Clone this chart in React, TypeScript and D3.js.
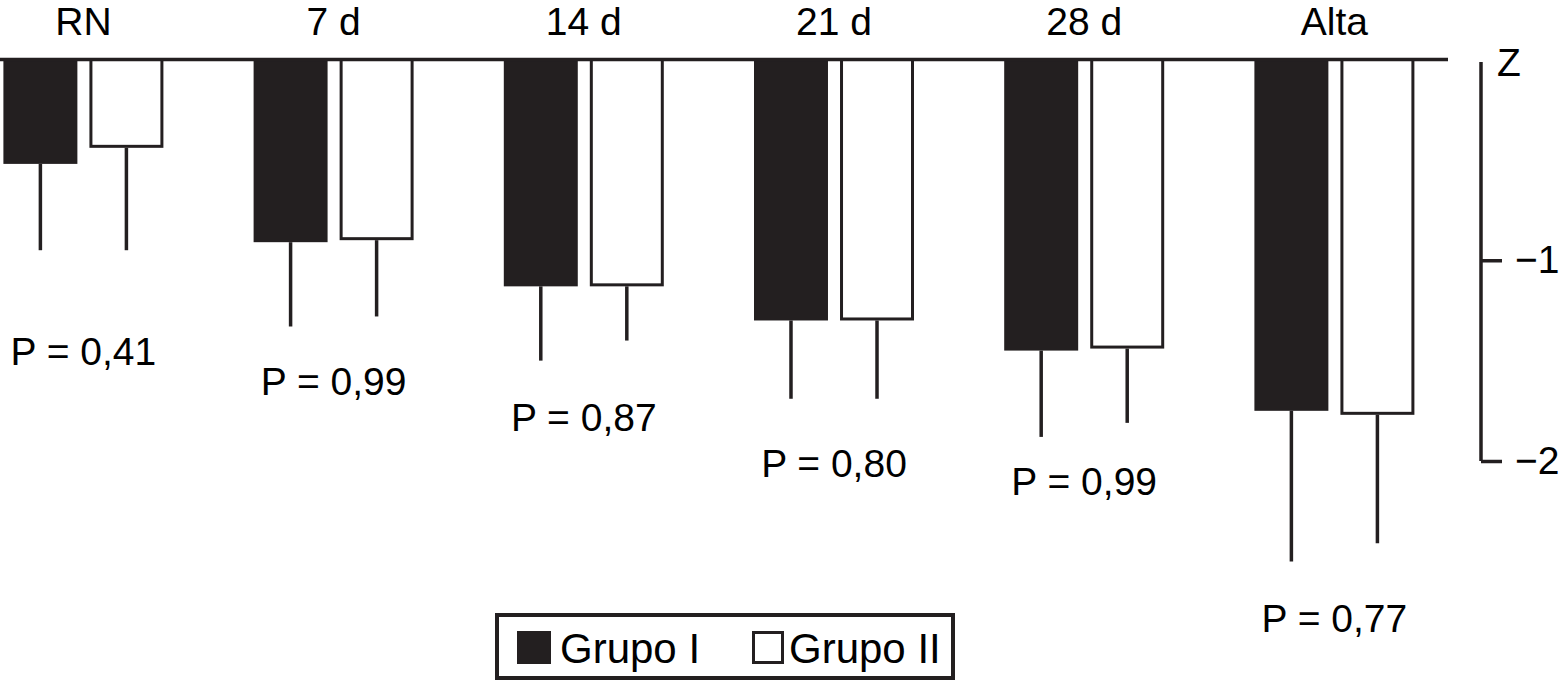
import React, { useEffect, useRef } from 'react';
import * as d3 from 'd3';

// Z-score by age, two groups (mean and SD)
const categories = ['RN', '7 d', '14 d', '21 d', '28 d', 'Alta'];
const groups = ['Grupo I', 'Grupo II'];
const grupo1Mean = [-0.52, -0.91, -1.13, -1.30, -1.45, -1.75];
const grupo1Sd = [0.43, 0.42, 0.37, 0.39, 0.43, 0.75];
const grupo2Mean = [-0.44, -0.90, -1.13, -1.30, -1.44, -1.77];
const grupo2Sd = [0.51, 0.38, 0.27, 0.39, 0.37, 0.64];
const pValues = ['0,41', '0,99', '0,87', '0,80', '0,99', '0,77'];
// where each P label sits, in Z units
const pLabelDepth = [-1.52, -1.67, -1.85, -2.08, -2.17, -2.85];
const yTicks = [-1, -2];

const W = 1561;
const H = 682;
const INK = '#231f20';
const FONT = '"Liberation Sans", Arial, Helvetica, sans-serif';

export default function App() {
  const ref = useRef<SVGSVGElement>(null);

  useEffect(() => {
    document.body.style.margin = '0';
    const svg = d3.select(ref.current);
    svg.selectAll('*').remove();

    const x0 = d3.scalePoint<string>().domain(categories).range([83.4, 1334.4]);
    const x1 = d3.scaleBand<string>().domain(groups).range([-80, 80]).paddingInner(0.14);
    const y = d3.scaleLinear().domain([0, -2]).range([59.5, 461]);

    const rows = categories.map((c, i) => ({
      cat: c,
      bars: [
        { g: groups[0], mean: grupo1Mean[i], sd: grupo1Sd[i] },
        { g: groups[1], mean: grupo2Mean[i], sd: grupo2Sd[i] },
      ],
    }));

    const groupG = svg.selectAll('g.cat')
      .data(rows)
      .enter().append('g')
      .attr('class', 'cat')
      .attr('transform', d => `translate(${x0(d.cat)},0)`);

    // error bars first so the bars cover their tops
    groupG.selectAll('line.err')
      .data(d => d.bars)
      .enter().append('line')
      .attr('x1', d => x1(d.g)! + x1.bandwidth() / 2)
      .attr('x2', d => x1(d.g)! + x1.bandwidth() / 2)
      .attr('y1', d => y(d.mean))
      .attr('y2', d => y(d.mean - d.sd))
      .attr('stroke', INK)
      .attr('stroke-width', 3.5);

    groupG.selectAll('rect.bar')
      .data(d => d.bars)
      .enter().append('rect')
      .attr('x', d => d.g === groups[0] ? x1(d.g)! : x1(d.g)! + 1.5)
      .attr('width', d => d.g === groups[0] ? x1.bandwidth() : x1.bandwidth() - 3)
      .attr('y', y(0))
      .attr('height', d => y(d.mean) - y(0) - (d.g === groups[0] ? 0 : 1.5))
      .attr('fill', d => d.g === groups[0] ? INK : '#fff')
      .attr('stroke', d => d.g === groups[0] ? 'none' : INK)
      .attr('stroke-width', 3);

    // baseline
    svg.append('line')
      .attr('x1', 0).attr('x2', 1448)
      .attr('y1', y(0)).attr('y2', y(0))
      .attr('stroke', INK).attr('stroke-width', 3.5);

    // category labels on top
    svg.selectAll('text.cat')
      .data(categories)
      .enter().append('text')
      .attr('x', d => x0(d)!)
      .attr('y', 35)
      .attr('text-anchor', 'middle')
      .attr('font-family', FONT)
      .attr('font-size', 39)
      .attr('fill', '#000')
      .text(d => d);

    // P labels
    svg.selectAll('text.p')
      .data(pValues)
      .enter().append('text')
      .attr('x', (d, i) => x0(categories[i])!)
      .attr('y', (d, i) => y(pLabelDepth[i]))
      .attr('text-anchor', 'middle')
      .attr('font-family', FONT)
      .attr('font-size', 39)
      .attr('fill', '#000')
      .text(d => `P = ${d}`);

    // right Z axis
    const axis = svg.append('g')
      .attr('transform', 'translate(1481,0)')
      .call(d3.axisRight(y).tickValues(yTicks).tickSize(21).tickSizeOuter(0).tickPadding(13)
        .tickFormat(d => '\u2212' + Math.abs(+d)));
    axis.select('.domain').attr('stroke', INK).attr('stroke-width', 3.5)
      .attr('d', `M0,${y(0) + 2.5}V${y(-2)}`);
    axis.selectAll('.tick line').attr('stroke', INK).attr('stroke-width', 3.5);
    axis.selectAll('.tick text')
      .attr('font-family', FONT).attr('font-size', 39).attr('fill', '#000');
    axis.append('text')
      .attr('x', 16).attr('y', 76)
      .attr('font-family', FONT).attr('font-size', 39).attr('fill', '#000')
      .text('Z');

    // legend
    const leg = svg.append('g');
    leg.append('rect')
      .attr('x', 497).attr('y', 615).attr('width', 456).attr('height', 63)
      .attr('fill', '#fff').attr('stroke', INK).attr('stroke-width', 4);
    leg.append('rect')
      .attr('x', 517).attr('y', 631).attr('width', 34).attr('height', 33)
      .attr('fill', INK);
    leg.append('rect')
      .attr('x', 753.5).attr('y', 632.5).attr('width', 29).attr('height', 30)
      .attr('fill', '#fff').attr('stroke', INK).attr('stroke-width', 3);
    leg.append('text')
      .attr('x', 560).attr('y', 663)
      .attr('font-family', FONT).attr('font-size', 42).attr('fill', '#000')
      .text(groups[0]);
    leg.append('text')
      .attr('x', 789).attr('y', 663)
      .attr('font-family', FONT).attr('font-size', 42).attr('fill', '#000')
      .text(groups[1]);
  }, []);

  return (
    <svg ref={ref} width={W} height={H}
      style={{ position: 'absolute', left: 0, top: 0, background: '#fff' }} />
  );
}
